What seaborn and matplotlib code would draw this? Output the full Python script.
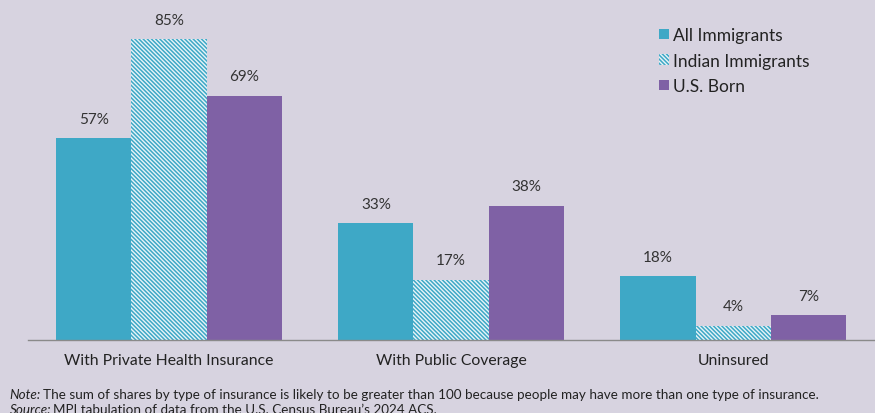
import pandas as pd
import matplotlib.pyplot as plt
import seaborn as sns

# Dados
categorias = ['With Private Health Insurance', 'With Public Coverage', 'Uninsured']
grupos = ['All Immigrants', 'Indian Immigrants', 'U.S. Born']
all_imm = [57, 33, 18]
indian_imm = [85, 17, 4]
us_born = [69, 38, 7]

df = pd.DataFrame({
    'Categoria': categorias * 3,
    'Grupo': [g for g in grupos for _ in categorias],
    'Valor': all_imm + indian_imm + us_born,
})

fundo = '#d7d3e0'
azul = '#3ea8c6'
roxo = '#7f61a5'

sns.set_theme(style='white')
plt.rcParams['font.family'] = ['Lato', 'DejaVu Sans']
plt.rcParams['hatch.linewidth'] = 1.1
plt.rcParams['hatch.color'] = azul

fig = plt.figure(figsize=(8.75, 4.14), dpi=100, facecolor=fundo)
ax = fig.add_axes([0.032, 0.176, 0.968, 0.824])
ax.set_facecolor(fundo)

sns.barplot(data=df, x='Categoria', y='Valor', hue='Grupo', hue_order=grupos,
            palette=[azul, azul, roxo], width=0.8, saturation=1, linewidth=0,
            legend=False, ax=ax)

# barras hachuradas para Indian Immigrants
for barra in ax.containers[1]:
    barra.set_facecolor('#e8f4f8')
    barra.set_edgecolor(azul)
    barra.set_hatch('\\\\\\\\\\\\\\\\')
    barra.set_linewidth(0)

for cont in ax.containers:
    ax.bar_label(cont, labels=[f'{int(v)}%' for v in cont.datavalues],
                 padding=9, fontsize=11, color='#333333')

ax.set_ylim(0, 96.3)
ax.set_xlim(-0.5, 2.503)
ax.set_xlabel('')
ax.set_ylabel('')
ax.set_yticks([])
for s in ['top', 'right', 'left']:
    ax.spines[s].set_visible(False)
ax.spines['bottom'].set_color('#8a8a8a')
ax.spines['bottom'].set_linewidth(1)
ax.tick_params(axis='x', which='major', length=0, pad=9, labelsize=11.3, labelcolor='#222222')
ax.set_xticks([-0.5, 0.5, 1.5, 2.5], minor=True)
ax.tick_params(axis='x', which='minor', length=5, color='#8a8a8a', direction='out')

alcas = [c.patches[0] for c in ax.containers]
ax.legend(alcas, grupos, loc='upper left', bbox_to_anchor=(0.735, 0.943), frameon=False,
          fontsize=12.5, handlelength=0.55, handleheight=0.55, handletextpad=0.25,
          labelspacing=0.55, labelcolor='#222222', borderpad=0)

# notas de rodapé (parte em itálico + resto)
fig.canvas.draw()
rend = fig.canvas.get_renderer()
for y, ital, resto in [(0.032, 'Note:', 'The sum of shares by type of insurance is likely to be greater than 100 because people may have more than one type of insurance.'),
                       (-0.004, 'Source:', 'MPI tabulation of data from the U.S. Census Bureau\u2019s 2024 ACS.')]:
    t = fig.text(0.011, y, ital, fontsize=9.7, style='italic', color='#222222', va='bottom')
    bb = t.get_window_extent(rend)
    fig.text(bb.x1 / fig.bbox.width + 0.002, y, resto, fontsize=9.7, color='#222222', va='bottom')

fig.savefig('out.png', dpi=100, facecolor=fundo)
